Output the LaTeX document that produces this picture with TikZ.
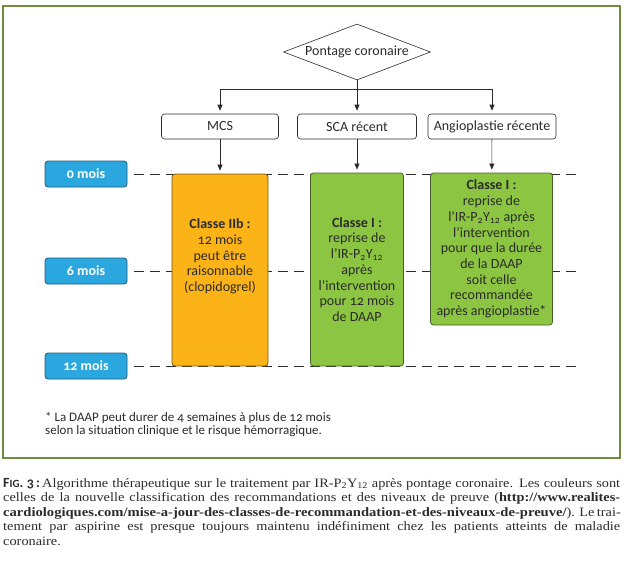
\documentclass[tikz,border=0pt]{standalone}
\usepackage{fontspec}
\setmainfont{Carlito}[Numbers=OldStyle]
\newfontfamily\captionfont{Liberation Serif}[FakeStretch=1.12]
\newfontfamily\captionwide{Liberation Serif}[FakeStretch=1.14]
\usepackage{xcolor}
\usetikzlibrary{positioning, calc, shapes.geometric, arrows.meta}

\definecolor{framegreen}{HTML}{6E8E3E}
\definecolor{orangefill}{HTML}{FBB317}
\definecolor{orangeline}{HTML}{6B5422}
\definecolor{greenfill}{HTML}{8CC541}
\definecolor{greenline}{HTML}{46622C}
\definecolor{bluefill}{HTML}{2AA7DF}
\definecolor{blueline}{HTML}{1D5B7C}
\definecolor{textdark}{HTML}{2B2B2B}

\tikzset{
  flow/.style = {-{Triangle[length=6pt, width=5pt]}, line width=0.6pt,
    draw=textdark, shorten >=3pt},
  headbox/.style = {draw=textdark, line width=0.6pt, rounded corners=3pt,
    minimum height=25pt, text=textdark, fill=white,
    font=\fontsize{14}{16}\selectfont},
  monthbox/.style = {draw=blueline, fill=bluefill, line width=0.8pt,
    rounded corners=3pt, minimum width=82pt, minimum height=26pt,
    text=white, font=\fontsize{14}{16}\selectfont\bfseries},
  classbox/.style = {line width=0.8pt, rounded corners=3pt, align=center,
    text=textdark, inner sep=0pt, font=\fontsize{14}{15.7}\selectfont},
  timeline/.style = {dash pattern=on 10pt off 6pt, line width=0.7pt,
    draw=textdark},
  fullline/.style = {inner sep=0pt, anchor=base west},
  capline/.style = {fullline, text=textdark,
    font=\captionfont\fontsize{12.8}{14}\selectfont}
}

\begin{document}
\begin{tikzpicture}[x=1pt, y=-1pt]
    \useasboundingbox (0,0) rectangle (628,562);
    \draw [framegreen, line width=2pt] (3,6) rectangle (620,458);

    \node (m0) [monthbox] at (86,174) {0 mois};
    \node (m6) [monthbox] at (86,271) {6 mois};
    \node (m12) [monthbox] at (86,366) {12 mois};
    \coordinate (m0end) at (580,174);
    \coordinate (m6end) at (580,271);
    \coordinate (m12end) at (580,366);
    \draw [timeline] ($(m0.east) + (7,0)$) -- (m0end);
    \draw [timeline] ($(m6.east) + (7,0)$) -- (m6end);
    \draw [timeline] ($(m12.east) + (7,0)$) -- (m12end);

    \node (pontage) [draw=textdark, line width=0.6pt, diamond, aspect=2.625,
    minimum width=147pt, minimum height=56pt, inner sep=1pt, text=textdark,
    font=\fontsize{14}{16}\selectfont] at (357,52) {Pontage coronaire};
    \node (mcs) [headbox, minimum width=117pt] at (220,126.5) {MCS};
    \node (sca) [headbox, minimum width=119pt] at (357,126.5) {SCA récent};
    \node (angio) [headbox, minimum width=128pt] at (492,126.5)
    {Angioplastie récente};

    \coordinate (split) at ($(pontage.south) + (0,9)$);
    \draw [line width=0.6pt, draw=textdark] (pontage.south) -- (split);
    \draw [flow] (split) -| (mcs.north);
    \draw [flow] (split) -- (sca.north);
    \draw [flow] (split) -| (angio.north);

    \node (mcsclass) [classbox, draw=orangeline, fill=orangefill,
    minimum width=96pt, minimum height=192pt] at (220,270) {};
    \node (mcstext) [classbox] at ($(mcsclass.center) + (0,-13.5)$)
    {\textbf{Classe IIb :}\\12 mois\\peut être\\raisonnable\\(clopidogrel)};
    \node (scaclass) [classbox, draw=greenline, fill=greenfill,
    minimum width=93pt, minimum height=193pt] at (357,269.5)
    {\textbf{Classe I :}\\reprise de\\l’IR-P\textsubscript{2}Y\textsubscript{12}\\après\\l’intervention\\pour 12 mois\\de DAAP};
    \node (angioclass) [classbox, draw=greenline, fill=greenfill,
    minimum width=122pt, minimum height=152pt] at (491.5,249)
    {\textbf{Classe I :}\\reprise de\\l’IR-P\textsubscript{2}Y\textsubscript{12} après\\l’intervention\\pour que la durée\\de la DAAP\\soit celle\\recommandée\\après angioplastie*};

    \draw [flow] (mcs) -- (mcsclass);
    \draw [flow] (sca) -- (scaclass);
    \draw [flow] (angio) -- (angioclass);

    \node (note1) [fullline, text=textdark, font=\fontsize{13}{13}\selectfont]
    at (45,421) {* La DAAP peut durer de 4 semaines à plus de 12 mois};
    \node (note2) [fullline, text=textdark, font=\fontsize{13}{13}\selectfont]
    at (45,434) {selon la situation clinique et le risque hémorragique.};

    \node (cap1) [capline] at (3,487) {\makebox[617pt][s]{{\rmfamily\bfseries\fontsize{14}{14}\selectfont F{\fontsize{11}{14}\selectfont IG}. 3\,:}\,Algorithme thérapeutique sur le traitement par IR-P\textsubscript{2}Y\textsubscript{12} après pontage coronaire. Les couleurs sont}};
    \node (cap2) [capline] at (3,501.5) {\makebox[617pt][s]{celles de la nouvelle classification des recommandations et des niveaux de preuve (\textbf{http://www.realites-}}};
    \node (cap3) [capline] at (3,516) {\makebox[617pt][s]{{\captionwide\bfseries cardiologiques.com/mise-a-jour-des-classes-de-recommandation-et-des-niveaux-de-preuve/}). Le trai-}};
    \node (cap4) [capline] at (3,530.5) {\makebox[617pt][s]{tement par aspirine est presque toujours maintenu indéfiniment chez les patients atteints de maladie}};
    \node (cap5) [capline] at (3,545) {coronaire.};
\end{tikzpicture}
\end{document}
